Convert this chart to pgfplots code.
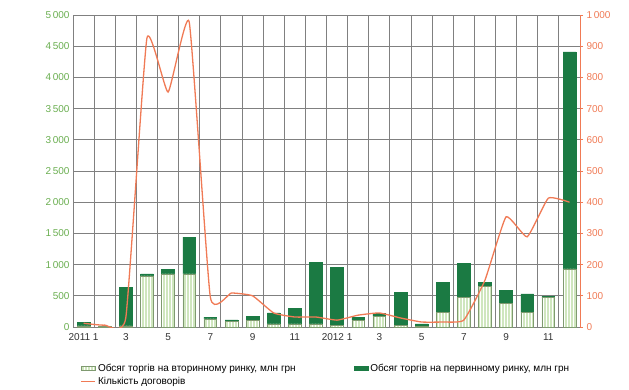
\documentclass[border=0pt]{standalone}
\usepackage{fontspec}
\setmainfont{Liberation Sans}
\usepackage{pgfplots}
\pgfplotsset{compat=1.18}
\usepackage{pgfplotstable}
\usetikzlibrary{patterns}

\definecolor{dgreen}{HTML}{1B7A43}
\definecolor{lgreen}{HTML}{CFE6BE}
\definecolor{lgedge}{HTML}{7F9A70}
\definecolor{lineor}{HTML}{F07A55}
\definecolor{ytickg}{HTML}{6AAE50}
\definecolor{gridc}{HTML}{808080}

\pgfplotsset{
  barleg/.style={legend image code/.code={\draw[##1] (0pt,-2pt) rectangle (14pt,2pt);}},
  lineleg/.style={legend image code/.code={\draw[##1] (0pt,0pt) -- (14pt,0pt);}},
}

\pgfplotstableread{
x sec prim cnt
0 20 50 12
1 5 5 6
2 20 610 30
3 820 30 926
4 850 70 753
5 850 590 978
6 130 30 96
7 90 25 109
8 110 60 100
9 50 175 45
10 50 250 32
11 50 980 32
12 30 930 22
13 110 50 38
14 170 50 45
15 30 530 29
16 10 40 16
17 230 480 16
18 470 550 22
19 650 60 150
20 380 210 353
21 230 300 289
22 470 20 413
23 930 3480 400
}\data

\begin{document}
\begin{tikzpicture}
\useasboundingbox (0,0) rectangle (629pt,389pt);
\begin{axis}[
  at={(73pt,62pt)}, anchor=south west,
  scale only axis, width=507pt, height=312pt,
  xmin=-0.5, xmax=23.5, ymin=0, ymax=5000,
  ytick={0,500,...,5000},
  xtick={0,2,...,22},
  xticklabels={2011 1,3,5,7,9,11,2012 1,3,5,7,9,11},
  minor xtick={-0.5,0.5,...,23.5},
  xminorgrids, ymajorgrids,
  grid style={gridc, line width=1pt},
  minor grid style={gridc, line width=1pt},
  axis y line*=left, axis x line*=bottom,
  axis line style={gridc, line width=1pt},
  major tick length=0pt, minor tick length=0pt,
  /pgf/number format/assume math mode=true,
  /pgf/number format/1000 sep={\,},
  yticklabel style={font=\fontsize{10}{11}\selectfont, text=ytickg},
  xticklabel style={font=\fontsize{10}{11}\selectfont, text=black!80, yshift=-3pt},
  ybar stacked, bar width=0.6,
  legend columns=2,
  legend cell align=left,
  legend style={at={(0.015,-0.112)}, anchor=north west, draw=none, fill=none,
    font=\fontsize{10}{11}\selectfont, row sep=0pt, inner sep=0pt,
    /tikz/every even column/.append style={column sep=56pt}},
]
\addplot[fill=lgreen, draw=lgedge, line width=0.5pt, barleg,
  postaction={pattern=vertical lines, pattern color=white}]
  table[x=x,y=sec]{\data};
\addlegendentry{Обсяг торгів на вторинному ринку, млн грн}
\addplot[fill=dgreen, draw=dgreen, line width=0.5pt, barleg]
  table[x=x,y=prim]{\data};
\addlegendentry{Обсяг торгів на первинному ринку, млн грн}
\addlegendimage{lineor, line width=1.2pt, lineleg}
\addlegendentry{Кількість договорів}
\end{axis}
\begin{axis}[
  at={(73pt,62pt)}, anchor=south west,
  scale only axis, width=507pt, height=312pt,
  xmin=-0.5, xmax=23.5, ymin=0, ymax=1000,
  ytick={0,100,...,1000},
  axis y line*=right, axis x line=none,
  axis line style={lineor, line width=0.8pt},
  ytick style={lineor, line width=0.8pt},
  tick align=outside, major tick length=3pt,
  /pgf/number format/assume math mode=true,
  /pgf/number format/1000 sep={\,},
  yticklabel style={font=\fontsize{10}{11}\selectfont, text=lineor},
]
\addplot[lineor, line width=1.3pt, smooth, tension=0.25, no marks] table[x=x,y=cnt]{\data};
\end{axis}
\end{tikzpicture}
\end{document}
